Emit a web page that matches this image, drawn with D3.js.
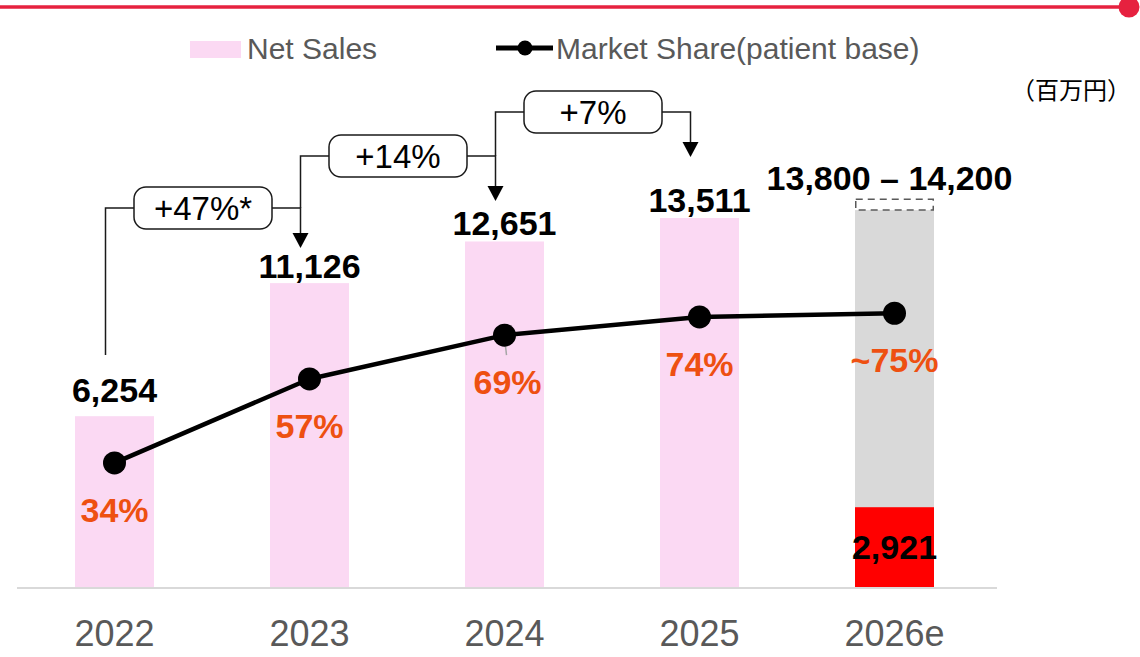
<!DOCTYPE html>
<html>
<head>
<meta charset="utf-8">
<script src="https://cdn.jsdelivr.net/npm/d3@7"></script>
<style>
  body { margin: 0; background: #fff; }
  svg { display: block; }
</style>
</head>
<body>
<svg id="chart" width="1140" height="657"></svg>
<script>
// ---- data ----
const years = ["2022", "2023", "2024", "2025", "2026e"];
const netSales = [6254, 11126, 12651, 13511, 13800];
const salesLabels = ["6,254", "11,126", "12,651", "13,511", "13,800 – 14,200"];
const forecastHigh = 14200;          // upper end of the 2026e range
const forecastBooked = 2921;         // portion of 2026e already booked
const forecastBookedLabel = "2,921";
const marketShare = [34, 57, 69, 74, 75];
const shareLabels = ["34%", "57%", "69%", "74%", "~75%"];
const growthLabels = ["+47%*", "+14%", "+7%"];
const unitLabel = "（百万円）";

// ---- layout ----
const W = 1140, H = 657;
const baseY = 587;
const barW = 79;
const font = "'Liberation Sans', Arial, sans-serif";
const pink = "#fbd9f3", grey = "#d9d9d9", red = "#ff0000";
const orange = "#ee5011", textGrey = "#595959", brand = "#e6213f";

const svg = d3.select("#chart");

const x = d3.scalePoint().domain(years).range([17, 992]).padding(0.5);
const y = d3.scaleLinear().domain([0, 16000]).range([baseY, 150]);
const yShare = d3.scaleLinear().domain([0, 100]).range([baseY, 222]);

// top brand rule
svg.append("line").attr("x1", 0).attr("x2", 1129).attr("y1", 7).attr("y2", 7)
  .attr("stroke", brand).attr("stroke-width", 3.5);
svg.append("circle").attr("cx", 1129).attr("cy", 7).attr("r", 10.5).attr("fill", brand);

// legend
svg.append("rect").attr("x", 190).attr("y", 41).attr("width", 51).attr("height", 17).attr("fill", pink);
svg.append("text").attr("x", 247).attr("y", 59).text("Net Sales")
  .attr("font-family", font).attr("font-size", 30).attr("fill", textGrey);
svg.append("line").attr("x1", 496).attr("x2", 553).attr("y1", 48).attr("y2", 48)
  .attr("stroke", "#000").attr("stroke-width", 5);
svg.append("circle").attr("cx", 525).attr("cy", 48).attr("r", 7.5).attr("fill", "#000");
svg.append("text").attr("x", 556).attr("y", 59).text("Market Share(patient base)")
  .attr("font-family", font).attr("font-size", 30).attr("fill", textGrey);

// unit
svg.append("text").attr("x", 1131).attr("y", 99).attr("text-anchor", "end").text(unitLabel)
  .attr("font-family", "'Noto Sans CJK JP', sans-serif").attr("font-size", 24).attr("fill", "#000");

// baseline axis
svg.append("line").attr("x1", 17).attr("x2", 997).attr("y1", baseY + 1).attr("y2", baseY + 1)
  .attr("stroke", grey).attr("stroke-width", 2);

// bars
const lastIdx = years.length - 1;
svg.append("g").selectAll("rect").data(years).join("rect")
  .attr("x", d => x(d) - barW / 2)
  .attr("width", barW)
  .attr("y", (d, i) => y(netSales[i]))
  .attr("height", (d, i) => baseY - y(netSales[i]))
  .attr("fill", (d, i) => i === lastIdx ? grey : pink);

// booked part of the forecast
svg.append("rect")
  .attr("x", x(years[lastIdx]) - barW / 2).attr("width", barW)
  .attr("y", y(forecastBooked)).attr("height", baseY - y(forecastBooked))
  .attr("fill", red);

// forecast range box
svg.append("rect")
  .attr("x", x(years[lastIdx]) - barW / 2 + 0.75).attr("width", barW - 1.5)
  .attr("y", y(forecastHigh)).attr("height", y(netSales[lastIdx]) - y(forecastHigh))
  .attr("fill", "none").attr("stroke", "#595959").attr("stroke-width", 1.5)
  .attr("stroke-dasharray", "7,5");

// x labels
svg.append("g").selectAll("text").data(years).join("text")
  .attr("x", d => x(d)).attr("y", 646).attr("text-anchor", "middle")
  .attr("font-family", font).attr("font-size", 36).attr("fill", textGrey)
  .text(d => d);

// sales value labels
const labelGap = [26, 17, 18, 18, 21];
svg.append("g").selectAll("text").data(salesLabels).join("text")
  .attr("x", (d, i) => x(years[i]) - (i === lastIdx ? 5 : 0))
  .attr("y", (d, i) => {
    const top = i === lastIdx ? y(forecastHigh) : y(netSales[i]);
    return top - labelGap[i] + 12;
  })
  .attr("text-anchor", "middle")
  .attr("font-family", font).attr("font-size", 34).attr("font-weight", "bold").attr("fill", "#000")
  .text(d => d);

svg.append("text")
  .attr("x", x(years[lastIdx])).attr("y", y(forecastBooked) + 40 + 12)
  .attr("text-anchor", "middle")
  .attr("font-family", font).attr("font-size", 34).attr("font-weight", "bold").attr("fill", "#000")
  .text(forecastBookedLabel);

// market share line
const pts = years.map((d, i) => [x(d), yShare(marketShare[i])]);
svg.append("path")
  .attr("d", d3.line()(pts))
  .attr("fill", "none").attr("stroke", "#000").attr("stroke-width", 4.5)
  .attr("stroke-linejoin", "round");

// leader tick for 2024 label
svg.append("line")
  .attr("x1", x("2024")).attr("y1", yShare(69) + 2)
  .attr("x2", x("2024") + 2).attr("y2", yShare(69) + 20)
  .attr("stroke", "#a6a6a6").attr("stroke-width", 1.5);

svg.append("g").selectAll("circle").data(pts).join("circle")
  .attr("cx", d => d[0]).attr("cy", d => d[1]).attr("r", 11.5).attr("fill", "#000");

svg.append("g").selectAll("text").data(shareLabels).join("text")
  .attr("x", (d, i) => x(years[i]) + (i === 2 ? 3 : 0))
  .attr("y", (d, i) => yShare(marketShare[i]) + 47 + 12)
  .attr("text-anchor", "middle")
  .attr("font-family", font).attr("font-size", 34).attr("font-weight", "bold").attr("fill", orange)
  .text(d => d);

// growth brackets
const bracketLevel = [208, 156, 112];
const arrowTip = [248, 201, 157];
const firstStart = 355;
const boxW = 138, boxH = 42, head = 15;
const ann = svg.append("g").attr("fill", "none").attr("stroke", "#1a1a1a").attr("stroke-width", 1.5);

growthLabels.forEach((lab, i) => {
  const sx = x(years[i]) - 9;
  const tx = x(years[i + 1]) - 9;
  const ly = bracketLevel[i];
  const cx = (sx + tx) / 2;
  const startY = i === 0 ? firstStart : bracketLevel[i - 1];
  ann.append("path")
    .attr("d", `M${sx},${startY}V${ly}H${cx - boxW / 2}M${cx + boxW / 2},${ly}H${tx}V${arrowTip[i] - head}`);
  ann.append("path")
    .attr("d", `M${tx - 8},${arrowTip[i] - head}L${tx + 8},${arrowTip[i] - head}L${tx},${arrowTip[i]}Z`)
    .attr("fill", "#000").attr("stroke", "none");
  ann.append("rect")
    .attr("x", cx - boxW / 2).attr("y", ly - boxH / 2).attr("width", boxW).attr("height", boxH)
    .attr("rx", 12).attr("fill", "#fff");
  svg.append("text").attr("x", cx).attr("y", ly + 12).attr("text-anchor", "middle")
    .attr("font-family", font).attr("font-size", 33).attr("fill", "#000")
    .text(lab);
});
</script>
</body>
</html>
